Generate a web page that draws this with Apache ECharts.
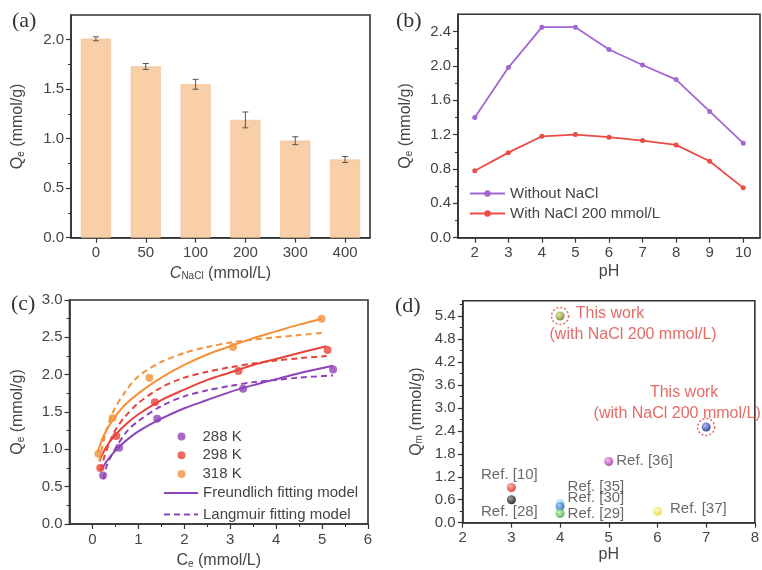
<!DOCTYPE html>
<html><head><meta charset="utf-8">
<script src="https://cdn.jsdelivr.net/npm/echarts@6/dist/echarts.min.js"></script>
<style>html,body{margin:0;padding:0;background:#fff}#c{width:762px;height:570px}</style>
</head><body><div id="c"></div>
<script>
// ---------- (a) Qe vs NaCl concentration ----------
const naclCategories = ['0', '50', '100', '200', '300', '400'];
const qeByNacl = [2.01, 1.73, 1.55, 1.19, 0.98, 0.79];
const qeErr = [0.02, 0.03, 0.05, 0.08, 0.04, 0.03];
const aYTicks = [0, 0.5, 1.0, 1.5, 2.0];
const aYMinor = [0.25, 0.75, 1.25, 1.75];

// ---------- (b) Qe vs pH ----------
const phCategories = ['2', '3', '4', '5', '6', '7', '8', '9', '10'];
const qeWithout = [1.40, 1.98, 2.45, 2.45, 2.19, 2.01, 1.84, 1.47, 1.10];
const qeWith = [0.78, 0.99, 1.18, 1.20, 1.17, 1.13, 1.08, 0.89, 0.58];
const bYTicks = [0, 0.4, 0.8, 1.2, 1.6, 2.0, 2.4];
const bYMinor = [0.2, 0.6, 1.0, 1.4, 1.8, 2.2];

// ---------- (c) isotherms ----------
const ce288 = [0.23, 0.58, 1.41, 3.28, 5.24];
const q288 = [0.65, 1.02, 1.41, 1.81, 2.07];
const ce298 = [0.17, 0.52, 1.36, 3.18, 5.12];
const q298 = [0.75, 1.18, 1.63, 2.05, 2.33];
const ce318 = [0.13, 0.44, 1.24, 3.06, 4.99];
const q318 = [0.94, 1.42, 1.96, 2.37, 2.75];
// Freundlich fitting curves
const fx288 = [0.20, 0.30, 0.45, 0.70, 1.0, 1.5, 2.0, 2.5, 3.0, 3.5, 4.0, 4.5, 5.24];
const fy288 = [0.73, 0.83, 0.95, 1.10, 1.24, 1.41, 1.55, 1.66, 1.77, 1.86, 1.94, 2.02, 2.12];
const fx298 = [0.15, 0.20, 0.30, 0.45, 0.70, 1.0, 1.5, 2.0, 2.5, 3.0, 3.5, 4.0, 4.5, 5.1];
const fy298 = [0.84, 0.91, 1.03, 1.16, 1.32, 1.47, 1.66, 1.80, 1.93, 2.03, 2.13, 2.21, 2.29, 2.38];
const fx318 = [0.12, 0.20, 0.30, 0.45, 0.70, 1.0, 1.5, 2.0, 2.5, 3.0, 3.5, 4.0, 4.5, 4.99];
const fy318 = [0.97, 1.12, 1.25, 1.40, 1.59, 1.75, 1.96, 2.13, 2.27, 2.38, 2.49, 2.58, 2.67, 2.75];
// Langmuir fitting curves
const lx288 = [0.24, 0.30, 0.40, 0.55, 0.75, 1.0, 1.5, 2.0, 2.5, 3.0, 3.5, 4.0, 4.5, 5.24];
const ly288 = [0.60, 0.76, 0.90, 1.06, 1.24, 1.38, 1.58, 1.71, 1.79, 1.85, 1.90, 1.93, 1.96, 1.99];
const lx298 = [0.18, 0.25, 0.35, 0.50, 0.70, 1.0, 1.5, 2.0, 2.5, 3.0, 3.5, 4.0, 4.5, 5.1];
const ly298 = [0.72, 0.88, 1.06, 1.26, 1.43, 1.62, 1.83, 1.96, 2.04, 2.10, 2.15, 2.19, 2.22, 2.25];
const lx318 = [0.15, 0.20, 0.30, 0.45, 0.70, 1.0, 1.5, 2.0, 2.5, 3.0, 3.5, 4.0, 4.5, 5.0];
const ly318 = [0.84, 1.00, 1.25, 1.50, 1.76, 1.98, 2.17, 2.29, 2.37, 2.43, 2.47, 2.50, 2.53, 2.56];
const cXTicks = [0, 1, 2, 3, 4, 5, 6];
const cXMinor = [0.5, 1.5, 2.5, 3.5, 4.5, 5.5];
const cYTicks = [0, 0.5, 1.0, 1.5, 2.0, 2.5, 3.0];
const cYMinor = [0.25, 0.75, 1.25, 1.75, 2.25, 2.75];

// ---------- (d) comparison ----------
const phD = [4, 7, 5, 3, 3, 4, 4, 4, 6];
const qmD = [5.4, 2.5, 1.6, 0.92, 0.6, 0.5, 0.42, 0.24, 0.3];
const labelsD = ['This work\n(with NaCl 200 mmol/L)', 'This work\n(with NaCl 200 mmol/L)',
  'Ref. [36]', 'Ref. [10]', 'Ref. [28]', 'Ref. [35]', 'Ref. [30]', 'Ref. [29]', 'Ref. [37]'];
const dXTicks = [2, 3, 4, 5, 6, 7, 8];
const dYTicks = [0, 0.6, 1.2, 1.8, 2.4, 3.0, 3.6, 4.2, 4.8, 5.4];
const dYMinor = [0.3, 0.9, 1.5, 2.1, 2.7, 3.3, 3.9, 4.5, 5.1, 5.7];

// ---------- styling ----------
const AX = '#333', LBL = '#444', RED = '#e0463f';
const FONT = '"Liberation Sans", Arial, sans-serif';
const P = '#8e44b8', R = '#e8433b', O = '#f4913a';
const f1 = v => v.toFixed(1);
const subRich = {s: {fontSize: 10, padding: [7, 0, 0, 0], fontFamily: FONT, color: LBL},
                 i: {fontStyle: 'italic', fontSize: 16, fontFamily: FONT, color: LBL}};

function majorAxis(o) {
  return Object.assign({
    axisLine: {show: true, onZero: false, lineStyle: {color: AX, width: 1.6}},
    axisTick: {show: true, inside: false, length: 5, customValues: o.ticks, lineStyle: {color: AX, width: 1.2}},
    axisLabel: {color: LBL, fontSize: 15, fontFamily: FONT, margin: 7, customValues: o.ticks, formatter: o.fmt},
    splitLine: {show: false},
    nameLocation: 'middle',
    nameTextStyle: {color: LBL, fontSize: 16, fontFamily: FONT, rich: subRich}
  }, o.extra);
}
function minorAxis(o) {
  return {
    type: 'value', min: o.min, max: o.max, gridIndex: o.grid, position: o.position,
    axisLine: {show: false, onZero: false},
    axisTick: {show: true, inside: false, length: 3, customValues: o.ticks, lineStyle: {color: AX, width: 1}},
    axisLabel: {show: false},
    splitLine: {show: false}
  };
}

const grids = [
  {left: 71, top: 15, width: 299, height: 222.7, show: true, borderColor: AX, borderWidth: 1.6},
  {left: 458, top: 14.3, width: 302, height: 223.4, show: true, borderColor: AX, borderWidth: 1.6},
  {left: 69.5, top: 300, width: 298.5, height: 224, show: true, borderColor: AX, borderWidth: 1.6},
  {left: 462.7, top: 300.7, width: 297.3, height: 222, show: true, borderColor: AX, borderWidth: 1.6}
];

const xAxes = [
  majorAxis({extra: {type: 'category', gridIndex: 0, data: naclCategories, position: 'bottom',
    name: '{i|C}{s|NaCl} (mmol/L)', nameGap: 27,
    axisTick: {show: true, alignWithLabel: true, length: 5, lineStyle: {color: AX, width: 1.2}},
    axisLabel: {color: LBL, fontSize: 15, fontFamily: FONT, margin: 8}}}),
  majorAxis({extra: {type: 'category', gridIndex: 1, data: phCategories, position: 'bottom',
    name: 'pH', nameGap: 26,
    axisTick: {show: true, alignWithLabel: true, length: 5, lineStyle: {color: AX, width: 1.2}},
    axisLabel: {color: LBL, fontSize: 15, fontFamily: FONT, margin: 8}}}),
  majorAxis({ticks: cXTicks, fmt: v => String(v), extra: {type: 'value', gridIndex: 2, min: -0.5, max: 6, position: 'bottom',
    name: 'C{s|e} (mmol/L)', nameGap: 28}}),
  minorAxis({grid: 2, min: -0.5, max: 6, position: 'bottom', ticks: cXMinor}),
  majorAxis({ticks: dXTicks, fmt: v => String(v), extra: {type: 'value', gridIndex: 3, min: 2, max: 8, position: 'bottom',
    name: 'pH', nameGap: 24}})
];
xAxes[2].axisLabel.margin = 8;
xAxes[4].axisLabel.margin = 8;

const yAxes = [
  majorAxis({ticks: aYTicks, fmt: f1, extra: {type: 'value', gridIndex: 0, min: 0, max: 2.25, position: 'left',
    name: 'Q{s|e} (mmol/g)', nameGap: 45}}),
  minorAxis({grid: 0, min: 0, max: 2.25, position: 'left', ticks: aYMinor}),
  majorAxis({ticks: bYTicks, fmt: f1, extra: {type: 'value', gridIndex: 1, min: 0, max: 2.6, position: 'left',
    name: 'Q{s|e} (mmol/g)', nameGap: 44}}),
  minorAxis({grid: 1, min: 0, max: 2.6, position: 'left', ticks: bYMinor}),
  majorAxis({ticks: cYTicks, fmt: f1, extra: {type: 'value', gridIndex: 2, min: 0, max: 3, position: 'left',
    name: 'Q{s|e} (mmol/g)', nameGap: 43}}),
  minorAxis({grid: 2, min: 0, max: 3, position: 'left', ticks: cYMinor}),
  majorAxis({ticks: dYTicks, fmt: f1, extra: {type: 'value', gridIndex: 3, min: 0, max: 5.8, position: 'left',
    name: 'Q{s|m} (mmol/g)', nameGap: 38}}),
  minorAxis({grid: 3, min: 0, max: 5.8, position: 'left', ticks: dYMinor})
];

const zip = (xs, ys) => xs.map((x, i) => [x, ys[i]]);

// point colours for (d): [dark, light]
const dColors = [['#66781a', '#dfe68a'], ['#14237a', '#9aaaff'], ['#9c2e96', '#f3a8ee'],
  ['#d42020', '#ffa090'], ['#000000', '#888888'], ['#5cc4dc', '#e0f8ff'],
  ['#1f5fb0', '#9cc8ff'], ['#3aa83a', '#c0f4b0'], ['#efd820', '#fffbc0']];
const grad = c => ({type: 'radial', x: 0.38, y: 0.35, r: 0.65,
  colorStops: [{offset: 0, color: c[1]}, {offset: 1, color: c[0]}]});
const refLabel = {color: LBL, fontSize: 15, fontFamily: FONT};
const workStyle = {color: RED, fontSize: 16, fontFamily: FONT, lineHeight: 21, align: 'center'};
const workFmt = p => '{a|' + labelsD[p.dataIndex].split('\n')[0] + '}\n{b|' + labelsD[p.dataIndex].split('\n')[1] + '}';
const dLabelCfg = [
  {show: true, position: 'inside', offset: [73, 8], formatter: workFmt,
   rich: {a: Object.assign({}, workStyle, {padding: [0, 46, 0, 0]}), b: workStyle}},
  {show: true, position: 'inside', offset: [-29, -24], formatter: workFmt,
   rich: {a: Object.assign({}, workStyle, {padding: [0, 0, 0, 14]}), b: workStyle}},
  Object.assign({show: true, position: 'right', distance: 3, offset: [0, -1]}, refLabel),
  Object.assign({show: true, position: 'top', distance: 1, offset: [-2, 0]}, refLabel),
  Object.assign({show: true, position: 'bottom', distance: 0, offset: [-2, 0]}, refLabel),
  Object.assign({show: true, position: 'right', distance: 3, offset: [0, -17]}, refLabel),
  Object.assign({show: true, position: 'right', distance: 3, offset: [0, -9]}, refLabel),
  Object.assign({show: true, position: 'right', distance: 3, offset: [0, 0]}, refLabel),
  Object.assign({show: true, position: 'right', distance: 8, offset: [0, -2]}, refLabel)
];
dLabelCfg.forEach((l, i) => { if (i > 1) l.formatter = p => labelsD[p.dataIndex]; });

function fitLine(name, xs, ys, color, dashed) {
  return {type: 'line', name: name, xAxisIndex: 2, yAxisIndex: 4, data: zip(xs, ys),
    smooth: 0.3, symbol: 'none',
    lineStyle: {color: color, width: 2, type: dashed ? [6, 4] : 'solid'}, itemStyle: {color: color}};
}

const series = [
  // (a)
  {type: 'bar', xAxisIndex: 0, yAxisIndex: 0, data: qeByNacl, barWidth: 30,
   itemStyle: {color: '#f9cfa8', borderColor: '#f0b98e', borderWidth: 0.6}},
  {type: 'custom', xAxisIndex: 0, yAxisIndex: 0, z: 5,
   data: qeByNacl.map((v, i) => [i, v - qeErr[i], v + qeErr[i]]),
   renderItem: (params, api) => {
     const lo = api.coord([api.value(0), api.value(1)]);
     const hi = api.coord([api.value(0), api.value(2)]);
     const w = 3, st = {stroke: '#555', lineWidth: 1};
     return {type: 'group', children: [
       {type: 'line', shape: {x1: lo[0], y1: lo[1], x2: hi[0], y2: hi[1]}, style: st},
       {type: 'line', shape: {x1: lo[0] - w, y1: lo[1], x2: lo[0] + w, y2: lo[1]}, style: st},
       {type: 'line', shape: {x1: hi[0] - w, y1: hi[1], x2: hi[0] + w, y2: hi[1]}, style: st}
     ]};
   }},
  // (b)
  {type: 'line', name: 'Without NaCl', xAxisIndex: 1, yAxisIndex: 2, data: qeWithout,
   symbol: 'circle', symbolSize: 5, lineStyle: {color: '#a466d2', width: 1.8}, itemStyle: {color: '#a466d2'}},
  {type: 'line', name: 'With NaCl 200 mmol/L', xAxisIndex: 1, yAxisIndex: 2, data: qeWith,
   symbol: 'circle', symbolSize: 5, lineStyle: {color: '#ec4b46', width: 1.8}, itemStyle: {color: '#ec4b46'}},
  // (c) fitting curves
  fitLine('Freundlich fitting model', fx288, fy288, P, false),
  fitLine('Freundlich fitting model', fx298, fy298, R, false),
  fitLine('Freundlich fitting model', fx318, fy318, O, false),
  fitLine('Langmuir fitting model', lx288, ly288, P, true),
  fitLine('Langmuir fitting model', lx298, ly298, R, true),
  fitLine('Langmuir fitting model', lx318, ly318, O, true),
  // (c) points
  {type: 'scatter', name: '288 K', xAxisIndex: 2, yAxisIndex: 4, data: zip(ce288, q288), symbolSize: 8, itemStyle: {color: P}, z: 4},
  {type: 'scatter', name: '298 K', xAxisIndex: 2, yAxisIndex: 4, data: zip(ce298, q298), symbolSize: 8, itemStyle: {color: R}, z: 4},
  {type: 'scatter', name: '318 K', xAxisIndex: 2, yAxisIndex: 4, data: zip(ce318, q318), symbolSize: 8, itemStyle: {color: O}, z: 4},
  // (d)
  {type: 'scatter', xAxisIndex: 4, yAxisIndex: 6, symbolSize: 9, z: 4,
   data: phD.map((x, i) => ({value: [x, qmD[i]], itemStyle: {color: grad(dColors[i])}, label: dLabelCfg[i]}))},
  {type: 'scatter', xAxisIndex: 4, yAxisIndex: 6, symbolSize: 17, z: 3, silent: true,
   data: [[phD[0], qmD[0]], [phD[1], qmD[1]]],
   itemStyle: {color: 'rgba(0,0,0,0)', borderColor: RED, borderWidth: 1.5, borderType: [2, 2]}}
];

const titleStyle = {fontFamily: '"Liberation Serif", "Times New Roman", serif', fontSize: 22, fontWeight: 'normal', color: '#333'};
const legendText = {color: LBL, fontSize: 15, fontFamily: FONT};
const option = {
  backgroundColor: '#fff',
  animation: false,
  title: [
    {text: '(a)', left: 12, top: 10, padding: 0, textStyle: titleStyle},
    {text: '(b)', left: 396, top: 10, padding: 0, textStyle: titleStyle},
    {text: '(c)', left: 11, top: 293, padding: 0, textStyle: titleStyle},
    {text: '(d)', left: 395, top: 295, padding: 0, textStyle: titleStyle}
  ],
  legend: [
    {left: 469, top: 186, orient: 'vertical', padding: 0, itemWidth: 35, itemHeight: 8, itemGap: 5,
     data: ['Without NaCl', 'With NaCl 200 mmol/L'], textStyle: legendText},
    {left: 177.5, top: 429, orient: 'vertical', padding: 0, itemWidth: 8, itemHeight: 8, itemGap: 3.8,
     data: ['288 K', '298 K', '318 K'], textStyle: Object.assign({padding: [0, 0, 0, 12]}, legendText)},
    {left: 163, top: 485.5, orient: 'vertical', padding: 0, itemWidth: 34, itemHeight: 8, itemGap: 6.5,
     data: [{name: 'Freundlich fitting model', itemStyle: {color: 'rgba(0,0,0,0)', borderWidth: 0}},
            {name: 'Langmuir fitting model', itemStyle: {color: 'rgba(0,0,0,0)', borderWidth: 0}}],
     textStyle: legendText}
  ],
  grid: grids,
  xAxis: xAxes,
  yAxis: yAxes,
  series: series
};
const chart = echarts.init(document.getElementById('c'), null, {renderer: 'canvas'});
chart.setOption(option);
</script>
</body></html>
